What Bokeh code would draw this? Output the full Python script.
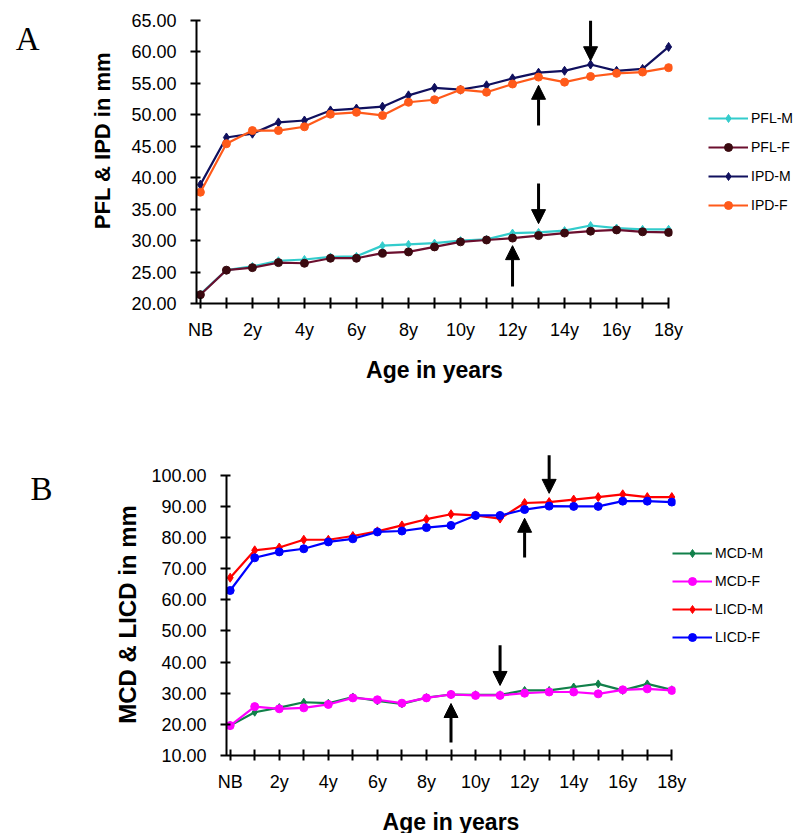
import math
from bokeh.plotting import figure
from bokeh.models import (FixedTicker, PrintfTickFormatter, Arrow, NormalHead,
                          ColumnDataSource, Legend, Label, Range1d)
from bokeh.layouts import column, row
from bokeh.embed import file_html
from bokeh.resources import INLINE

# ---------------- data ----------------
ages = list(range(19))                      # 0 = NB (newborn), 1..18 years
tick_positions = [0, 2, 4, 6, 8, 10, 12, 14, 16, 18]
tick_labels = ["NB", "2y", "4y", "6y", "8y", "10y", "12y", "14y", "16y", "18y"]
minor_positions = [1, 3, 5, 7, 9, 11, 13, 15, 17]

# Panel A
pfl_m = [21.5, 25.3, 25.9, 26.8, 27.0, 27.4, 27.5, 29.2, 29.4, 29.6, 30.0, 30.2, 31.2, 31.3, 31.6, 32.4, 32.0, 31.8, 31.8]
pfl_f = [21.4, 25.3, 25.7, 26.5, 26.4, 27.2, 27.2, 28.0, 28.2, 29.0, 29.8, 30.1, 30.4, 30.8, 31.2, 31.5, 31.7, 31.4, 31.3]
ipd_m = [38.9, 46.4, 47.0, 48.8, 49.1, 50.7, 51.0, 51.3, 53.1, 54.3, 54.0, 54.7, 55.8, 56.7, 57.0, 58.0, 57.0, 57.3, 60.8]
ipd_f = [37.7, 45.4, 47.5, 47.5, 48.1, 50.1, 50.4, 49.9, 52.0, 52.4, 54.0, 53.6, 54.9, 56.0, 55.2, 56.1, 56.6, 56.8, 57.5]
a_yticks = [20, 25, 30, 35, 40, 45, 50, 55, 60, 65]

# Panel B
mcd_m = [19.6, 23.9, 25.4, 27.1, 26.8, 28.8, 27.5, 26.6, 28.6, 29.6, 29.5, 29.5, 30.9, 30.9, 32.0, 33.0, 30.9, 33.0, 31.1]
mcd_f = [19.6, 25.7, 25.0, 25.3, 26.4, 28.5, 27.9, 26.8, 28.5, 29.6, 29.3, 29.3, 30.0, 30.4, 30.4, 29.8, 31.1, 31.4, 30.9]
licd_m = [67.1, 75.9, 76.8, 79.3, 79.3, 80.5, 82.0, 83.9, 85.9, 87.5, 87.1, 86.1, 91.1, 91.4, 92.2, 93.0, 93.9, 93.0, 93.0]
licd_f = [63.0, 73.5, 75.4, 76.4, 78.6, 79.6, 81.8, 82.1, 83.2, 83.9, 87.1, 87.1, 89.0, 90.1, 90.0, 90.0, 91.7, 91.7, 91.4]
b_yticks = [10, 20, 30, 40, 50, 60, 70, 80, 90, 100]

# arrows (age, value at tail, value at head)
a_arrow_x = [15, 13, 13, 12]
a_arrow_from = [65.0, 48.3, 39.1, 22.7]
a_arrow_to = [58.6, 54.7, 32.7, 29.2]
b_arrow_x = [13, 12, 11, 9]
b_arrow_from = [106.4, 73.6, 45.4, 14.2]
b_arrow_to = [94.2, 86.2, 32.5, 26.7]

FONT = "Liberation Sans"


def style_axes(p, ybounds, yticks, xlabel):
    p.xaxis.bounds = (0, 18)
    p.yaxis.bounds = ybounds
    p.xaxis.ticker = FixedTicker(ticks=tick_positions, minor_ticks=minor_positions)
    p.xaxis.major_label_overrides = {t: l for t, l in zip(tick_positions, tick_labels)}
    p.yaxis.ticker = FixedTicker(ticks=yticks)
    p.yaxis.formatter = PrintfTickFormatter(format="%.2f")
    for ax in (p.xaxis, p.yaxis):
        ax.axis_line_color = "black"
        ax.axis_line_width = 2
        ax.major_tick_line_color = "black"
        ax.major_tick_line_width = 2
        ax.minor_tick_line_color = "black"
        ax.minor_tick_line_width = 2
        ax.major_label_text_font = FONT
        ax.major_label_text_color = "black"
        ax.axis_label_text_font = FONT
        ax.axis_label_text_font_style = "bold"
        ax.axis_label_text_color = "black"
    p.xaxis.major_tick_in = 6
    p.xaxis.major_tick_out = 5
    p.xaxis.minor_tick_in = 6
    p.xaxis.minor_tick_out = 5
    p.yaxis.major_tick_in = 4
    p.yaxis.major_tick_out = 6
    p.yaxis.minor_tick_line_color = None
    p.xaxis.major_label_text_font_size = "18px"
    p.yaxis.major_label_text_font_size = "18px"
    p.xaxis.major_label_standoff = 11
    p.yaxis.major_label_standoff = 14
    p.xaxis.axis_label = xlabel
    p.xaxis.axis_label_text_font_size = "23px"
    p.xaxis.axis_label_standoff = 14
    p.grid.visible = False
    p.outline_line_color = None


def series(p, y, color, marker, msize, label, mcolor=None):
    src = ColumnDataSource(dict(x=ages, y=y))
    r1 = p.line("x", "y", source=src, line_color=color, line_width=2.2)
    r2 = p.scatter("x", "y", source=src, marker=marker, size=msize,
                   fill_color=mcolor or color, line_color=mcolor or color)
    return (label, [r1, r2])


def add_arrows(p, xs, y0, y1):
    src = ColumnDataSource(dict(x=xs, y0=y0, y1=y1))
    p.add_layout(Arrow(end=NormalHead(size=14, fill_color="black", line_color="black"),
                       x_start="x", y_start="y0", x_end="x", y_end="y1",
                       source=src, line_color="black", line_width=3))


def make_legend(items, loc, spacing):
    return Legend(items=items, location=loc, orientation="vertical",
                  glyph_width=40, glyph_height=20, label_height=20, spacing=spacing,
                  label_standoff=3, padding=0, margin=0,
                  border_line_color=None, background_fill_alpha=0,
                  label_text_font=FONT, label_text_font_size="14px",
                  label_text_color="black")


def side_text(p, x, y, text, font, size, style="normal", angle=0.0,
              align="left", baseline="alphabetic"):
    p.add_layout(Label(x=x, y=y, text=text, text_font=font, text_font_size=size,
                       text_font_style=style, angle=angle, text_align=align,
                       text_baseline=baseline, text_color="black"), "left")


# ---------------- panel A ----------------
pa = figure(frame_width=476, frame_height=283, min_border_left=196, min_border_right=128,
            min_border_top=20, min_border_bottom=97,
            x_range=Range1d(-0.15, 18.15), y_range=Range1d(20, 65),
            output_backend="svg", toolbar_location=None, background_fill_color="white")
style_axes(pa, (20, 65), a_yticks, "Age in years")
items_a = [
    series(pa, pfl_m, "#33CCCC", "diamond", 8, "PFL-M"),
    series(pa, pfl_f, "#6b0f2e", "circle", 8, "PFL-F", "#3a0a10"),
    series(pa, ipd_m, "#10105e", "diamond", 9, "IPD-M"),
    series(pa, ipd_f, "#FF5A1A", "circle", 8, "IPD-F"),
]
add_arrows(pa, a_arrow_x, a_arrow_from, a_arrow_to)
pa.add_layout(make_legend(items_a, (36, 88), 9), "right")
side_text(pa, -7.1, 62.0, "A", "Liberation Serif", "33px")
side_text(pa, -3.77, 45.9, "PFL & IPD in mm", FONT, "22px", "bold", math.pi / 2,
          "center", "middle")

# ---------------- panel B ----------------
pb = figure(frame_width=449, frame_height=302, min_border_left=226, min_border_right=125,
            min_border_top=53, min_border_bottom=78,
            x_range=Range1d(-0.15, 18.15), y_range=Range1d(10, 107),
            output_backend="svg", toolbar_location=None, background_fill_color="white")
style_axes(pb, (10, 100), b_yticks, "Age in years")
items_b = [
    series(pb, mcd_m, "#11804a", "diamond", 8, "MCD-M"),
    series(pb, mcd_f, "#FF00FF", "circle", 8, "MCD-F"),
    series(pb, licd_m, "#FF0000", "diamond", 9, "LICD-M"),
    series(pb, licd_f, "#0000FF", "circle", 8, "LICD-F"),
]
add_arrows(pb, b_arrow_x, b_arrow_from, b_arrow_to)
pb.add_layout(make_legend(items_b, (-3, 108), 8), "right")
side_text(pb, -8.14, 95.5, "B", "Liberation Serif", "33px")
side_text(pb, -4.19, 55.3, "MCD & LICD in mm", FONT, "24px", "bold", math.pi / 2,
          "center", "middle")

layout = column(row(pa), row(pb), spacing=0)
open("out.html", "w").write(file_html(layout, INLINE))
